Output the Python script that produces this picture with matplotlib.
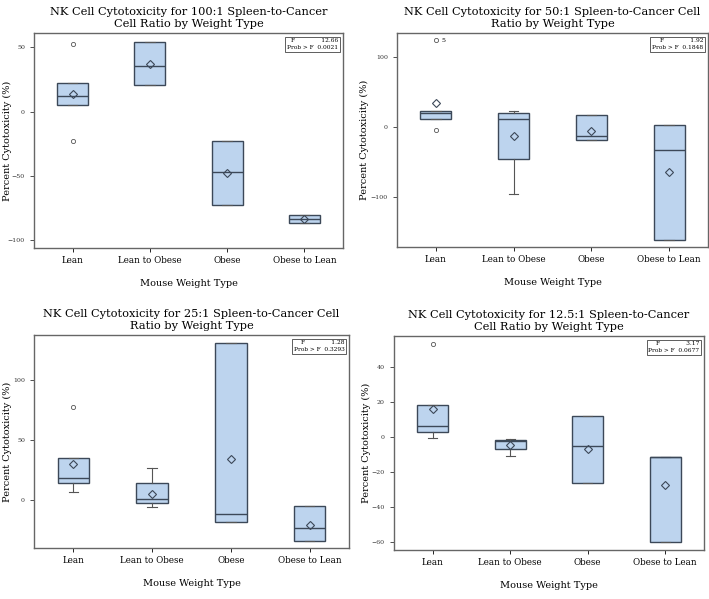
import matplotlib
matplotlib.use('Agg')
import matplotlib.pyplot as plt

plt.rcParams['font.family'] = ['DejaVu Serif']

groups = ['Lean', 'Lean to Obese', 'Obese', 'Obese to Lean']

# 100:1 ratio - box summaries
r100_q1 = [5.4, 20.3, -72.3, -86.4]
r100_med = [12.3, 35.0, -47.0, -83.3]
r100_q3 = [22.0, 54.0, -23.0, -80.5]
r100_lo = [5.4, 20.3, -72.3, -86.4]
r100_hi = [22.0, 54.0, -23.0, -80.5]
r100_mean = [13.6, 36.7, -47.7, -83.5]
r100_out = [[52.6, -23.0], [], [], []]

# 50:1 ratio
r50_q1 = [11.9, -45.7, -19.0, -161.0]
r50_med = [20.0, 11.0, -13.3, -32.9]
r50_q3 = [22.4, 20.0, 17.0, 2.9]
r50_lo = [11.9, -95.7, -19.0, -161.0]
r50_hi = [22.4, 23.3, 17.0, 2.9]
r50_mean = [34.8, -13.3, -5.0, -63.8]
r50_out = [[123.8, -4.8], [], [], []]

# 25:1 ratio
r25_q1 = [14.1, -3.0, -18.8, -34.3]
r25_med = [18.3, 0.6, -11.4, -23.0]
r25_q3 = [34.9, 13.6, 130.7, -5.5]
r25_lo = [6.9, -6.0, -18.8, -34.3]
r25_hi = [34.9, 26.6, 130.7, -5.5]
r25_mean = [30.2, 5.0, 33.8, -21.0]
r25_out = [[77.0], [], [], []]

# 12.5:1 ratio
r12_q1 = [3.0, -6.7, -26.5, -59.8]
r12_med = [6.7, -2.3, -5.0, -11.4]
r12_q3 = [18.3, -1.5, 12.2, -11.6]
r12_lo = [-0.2, -11.0, -26.5, -59.8]
r12_hi = [18.3, -0.8, 12.2, -11.6]
r12_mean = [16.4, -4.2, -6.5, -27.6]
r12_out = [[53.7], [], [], []]

titles = ['NK Cell Cytotoxicity for 100:1 Spleen-to-Cancer\nCell Ratio by Weight Type',
          'NK Cell Cytotoxicity for 50:1 Spleen-to-Cancer Cell\nRatio by Weight Type',
          'NK Cell Cytotoxicity for 25:1 Spleen-to-Cancer Cell\nRatio by Weight Type',
          'NK Cell Cytotoxicity for 12.5:1 Spleen-to-Cancer\nCell Ratio by Weight Type']
f_vals = ['12.66', '1.92', '1.28', '3.17']
p_vals = ['0.0021', '0.1848', '0.3293', '0.0677']
ylims = [(-106, 61), (-171, 134), (-40, 137), (-64.6, 58)]
yticks = [[-100, -50, 0, 50], [-100, 0, 100], [0, 50, 100], [-60, -40, -20, 0, 20, 40]]

panels = [
    (r100_q1, r100_med, r100_q3, r100_lo, r100_hi, r100_mean, r100_out),
    (r50_q1, r50_med, r50_q3, r50_lo, r50_hi, r50_mean, r50_out),
    (r25_q1, r25_med, r25_q3, r25_lo, r25_hi, r25_mean, r25_out),
    (r12_q1, r12_med, r12_q3, r12_lo, r12_hi, r12_mean, r12_out),
]

# axes rectangles in pixels: left, right, top, bottom
W, H = 709, 599
rects = [(34, 343, 33, 248), (397, 708, 33, 247), (34, 349, 335, 548), (394, 704, 336, 550)]
# right edge of the rotated y label, pixels
ylab_x = [12, 369, 12, 371]

fig = plt.figure(figsize=(W / 100, H / 100), dpi=100)
fill = '#bdd4ee'
edge = '#3c4858'

for i, (q1, med, q3, lo, hi, mean, out) in enumerate(panels):
    l, r, t, b = rects[i]
    ax = fig.add_axes([l / W, 1 - b / H, (r - l) / W, (b - t) / H])
    stats = []
    for k in range(4):
        stats.append({'q1': q1[k], 'med': med[k], 'q3': q3[k], 'whislo': lo[k],
                      'whishi': hi[k], 'mean': mean[k], 'fliers': out[k], 'label': groups[k]})
    ax.bxp(stats, positions=[1, 2, 3, 4], widths=0.4, capwidths=0.12, patch_artist=True,
           showmeans=True,
           boxprops=dict(facecolor=fill, edgecolor=edge, linewidth=1.0),
           medianprops=dict(color=edge, linewidth=1.0),
           whiskerprops=dict(color='#555555', linewidth=0.8),
           capprops=dict(color='#555555', linewidth=0.8),
           meanprops=dict(marker='D', markerfacecolor='none', markeredgecolor=edge,
                          markersize=4, markeredgewidth=0.8),
           flierprops=dict(marker='o', markerfacecolor='none', markeredgecolor='#555555',
                           markersize=3, markeredgewidth=0.6))
    ax.set_xlim(0.5, 4.5)
    ax.set_ylim(*ylims[i])
    ax.set_yticks(yticks[i])
    ax.tick_params(axis='y', labelsize=4.5, length=3, width=0.6, colors='#333333')
    ax.tick_params(axis='x', labelsize=6.3, length=3, width=0.6, pad=3)
    for s in ax.spines.values():
        s.set_color('#666666')
        s.set_linewidth(1.0)
    ax.set_title(titles[i], fontsize=8.2, pad=4, linespacing=1.3)
    ax.set_xlabel('Mouse Weight Type', fontsize=7, labelpad=10)
    ax.set_ylabel('Percent Cytotoxicity (%)', fontsize=7)
    ax.yaxis.set_label_coords((ylab_x[i] - l) / (r - l), 0.5)
    if i == 1:
        ax.annotate('5', xy=(1, out[0][0]), xytext=(4, 0), textcoords='offset points',
                    fontsize=4.5, va='center')
    ax.text(0.985, 0.975, 'F' + ' ' * 14 + f_vals[i] + '\nProb > F  ' + p_vals[i],
            transform=ax.transAxes, ha='right', va='top', fontsize=4.2, linespacing=1.5,
            bbox=dict(boxstyle='square,pad=0.3', facecolor='white', edgecolor='#444444',
                      linewidth=0.6))

fig.savefig('out.png', dpi=100)
